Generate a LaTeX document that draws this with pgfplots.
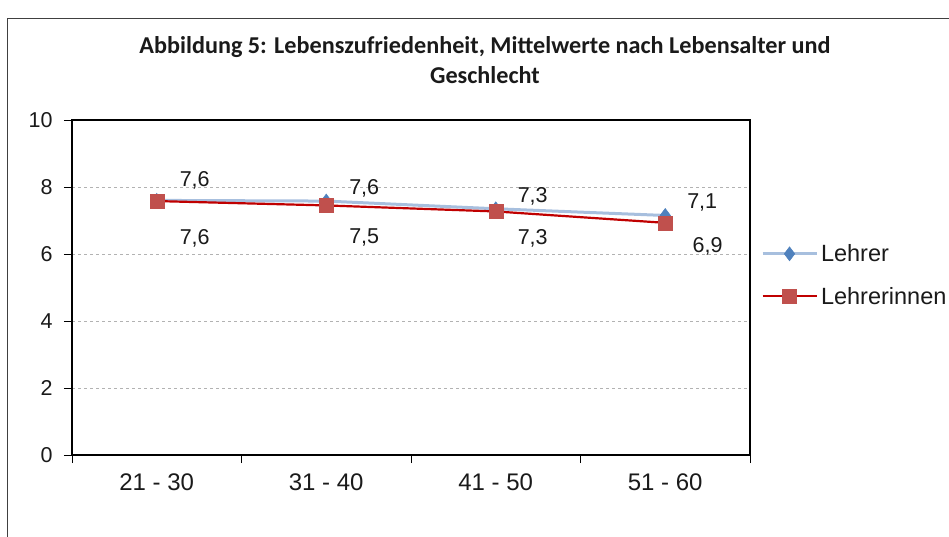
\documentclass[border=0pt]{standalone}
\usepackage{fontspec}
\setmainfont{Liberation Sans}
\newfontfamily\titlefont{Carlito}
\usepackage{pgfplots}
\pgfplotsset{compat=1.18}
\definecolor{lblue}{HTML}{A7BFDE}
\definecolor{mblue}{HTML}{4F81BD}
\definecolor{dred}{HTML}{C00000}
\definecolor{mred}{HTML}{C0504D}
\definecolor{txt}{HTML}{1A1A1A}
\newcommand{\yf}{\fontsize{21.5}{24}\selectfont}
\newcommand{\xf}{\fontsize{24}{28}\selectfont}
\newcommand{\lf}{\fontsize{23.5}{26}\selectfont}
\begin{document}
\begin{tikzpicture}
\clip (-72pt,-81pt) rectangle (877pt,455pt);
\draw[black!75, line width=1pt] (-64pt,-90pt) -- (-64pt,436pt) -- (890pt,436pt);
\node[font=\titlefont\bfseries\fontsize{24.2}{30}\selectfont, align=center, text=txt] at (413pt,395pt) {Abbildung 5: Lebenszufriedenheit, Mittelwerte nach Lebensalter und\\Geschlecht};
\begin{axis}[anchor=south west, at={(0pt,0pt)}, scale only axis, width=678pt, height=335pt,
 xmin=-0.5, xmax=3.5, ymin=0, ymax=10,
 xtick={0,1,2,3}, xticklabels={21 - 30, 31 - 40, 41 - 50, 51 - 60},
 major x tick style={draw=none},
 minor xtick={-0.5,0.5,1.5,2.5,3.5},
 minor x tick style={black, line width=1pt},
 ytick={0,2,...,10},
 y tick style={black, line width=1pt},
 tick align=outside, xtick pos=bottom, ytick pos=left,
 major tick length=8pt, minor tick length=8pt,
 ymajorgrids, grid style={dashed, gray!60, line width=0.6pt},
 axis line style={line width=1.6pt},
 y tick label style={font=\yf, text=txt, xshift=-8pt},
 x tick label style={font=\xf, text=txt, yshift=-7pt},
 /pgf/number format/assume math mode=true,
 legend style={draw=none, at={(1.013,0.537)}, anchor=west, font=\lf, text=txt, row sep=20pt, inner sep=2pt, nodes={inner xsep=3pt}},
 legend cell align=left,
 legend image code/.code={\draw[mark repeat=2,mark phase=2] plot coordinates {(0pt,0pt) (27pt,0pt) (54pt,0pt)};},
 clip=false,
]
\addplot[lblue, line width=3pt, mark=diamond*, mark size=7pt, mark options={fill=mblue, draw=mblue, line width=0.5pt}] coordinates {(0,7.6) (1,7.58) (2,7.35) (3,7.15)};
\addlegendentry{Lehrer}
\addplot[dred, line width=2.2pt, mark=square*, mark size=7pt, mark options={fill=mred, draw=mred, line width=0.5pt}] coordinates {(0,7.58) (1,7.45) (2,7.27) (3,6.93)};
\addlegendentry{Lehrerinnen}
\addplot[draw=none, mark=none, forget plot, nodes near coords, point meta=explicit symbolic,
 nodes near coords style={anchor=center, font=\yf, text=txt, inner sep=0pt}] table[meta=label] {
x y label
0.224 8.21 {7,6}
1.224 7.97 {7,6}
2.218 7.73 {7,3}
3.218 7.55 {7,1}
0.224 6.48 {7,6}
1.224 6.48 {7,5}
2.218 6.48 {7,3}
3.25 6.24 {6,9}
};
\end{axis}
\end{tikzpicture}
\end{document}
